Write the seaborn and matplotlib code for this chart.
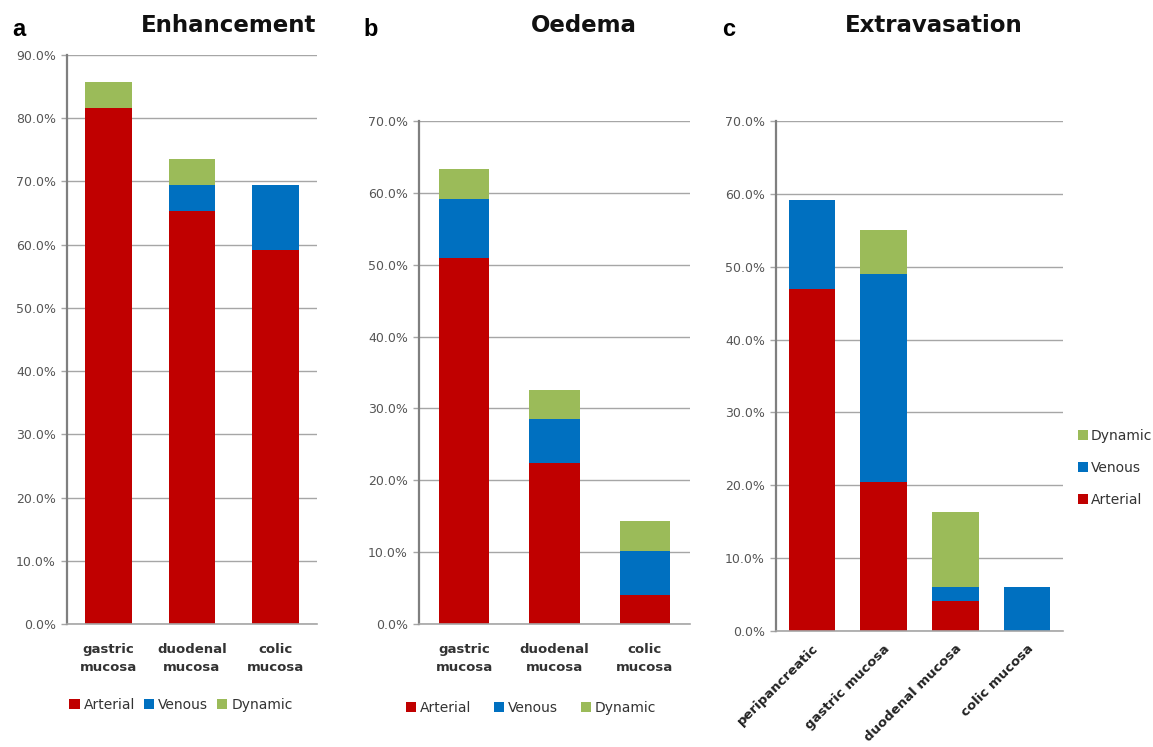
import matplotlib
matplotlib.use("Agg")
import matplotlib.pyplot as plt
from matplotlib.patches import Patch
from matplotlib.ticker import FuncFormatter, MultipleLocator
import seaborn as sns

# Percentage of patients per site, split by the phase in which the finding appeared
phases = ["Arterial", "Venous", "Dynamic"]
phase_colors = ["#C00000", "#0070C0", "#9BBB59"]

enh_sites = ["gastric\nmucosa", "duodenal\nmucosa", "colic\nmucosa"]
enh_arterial = [81.6, 65.3, 59.2]
enh_venous = [0.0, 4.1, 10.2]
enh_dynamic = [4.1, 4.1, 0.0]

oed_sites = ["gastric\nmucosa", "duodenal\nmucosa", "colic\nmucosa"]
oed_arterial = [51.0, 22.4, 4.1]
oed_venous = [8.2, 6.1, 6.1]
oed_dynamic = [4.1, 4.1, 4.1]

ext_sites = ["peripancreatic", "gastric mucosa", "duodenal mucosa", "colic mucosa"]
ext_arterial = [46.9, 20.4, 4.1, 0.0]
ext_venous = [12.2, 28.6, 2.0, 6.1]
ext_dynamic = [0.0, 6.1, 10.2, 0.0]

W, H = 1153, 747
sns.set_theme(style="white")
plt.rcParams["font.family"] = ["DejaVu Sans"]

fig = plt.figure(figsize=(W / 100, H / 100), dpi=100)


def px_axes(left, top, right, bottom):
    return fig.add_axes([left / W, 1 - bottom / H, (right - left) / W, (bottom - top) / H])


def stacked(ax, sites, arterial, venous, dynamic, ymax, width):
    art_ven = [a + v for a, v in zip(arterial, venous)]
    total = [s + d for s, d in zip(art_ven, dynamic)]
    # draw tallest layer first so lower segments sit on top
    for vals, col in zip([total, art_ven, arterial], phase_colors[::-1]):
        sns.barplot(x=sites, y=vals, color=col, saturation=1, width=width,
                    linewidth=0, ax=ax, errorbar=None)
    ax.set_ylim(0, ymax)
    ax.set_xlim(-0.5, len(sites) - 0.5)
    ax.yaxis.set_major_locator(MultipleLocator(10))
    ax.yaxis.set_major_formatter(FuncFormatter(lambda v, _: f"{v:.1f}%"))
    ax.yaxis.grid(True, color="#a6a6a6", linewidth=1.0)
    ax.set_axisbelow(True)
    for s in ["top", "right"]:
        ax.spines[s].set_visible(False)
    ax.spines["left"].set_color("#7f7f7f")
    ax.spines["left"].set_linewidth(1.6)
    ax.spines["bottom"].set_color("#a6a6a6")
    ax.spines["bottom"].set_linewidth(1.2)
    ax.tick_params(axis="y", left=True, length=4, width=1.0, color="#a6a6a6",
                   labelsize=9, labelcolor="#555555", pad=4)
    ax.tick_params(axis="x", bottom=False, labelsize=9.5, labelcolor="#333333", pad=8)
    for t in ax.get_xticklabels():
        t.set_fontweight("bold")
        t.set_linespacing(1.45)
    ax.set_xlabel("")
    ax.set_ylabel("")


def phase_handles(order):
    return [Patch(facecolor=phase_colors[i], edgecolor="none", label=phases[i]) for i in order]


legend_kw = dict(frameon=False, fontsize=10, handlelength=0.75, handleheight=0.75,
                 labelcolor="#333333")

# a: Enhancement
ax_a = px_axes(67, 55, 317, 624)
stacked(ax_a, enh_sites, enh_arterial, enh_venous, enh_dynamic, 90, 0.56)
ax_a.legend(handles=phase_handles([0, 1, 2]), loc="center", ncol=3,
            bbox_to_anchor=(181 / W, 1 - 705 / H), bbox_transform=fig.transFigure,
            handletextpad=0.3, columnspacing=0.6, **legend_kw)

# b: Oedema
ax_b = px_axes(419, 121, 690, 624)
stacked(ax_b, oed_sites, oed_arterial, oed_venous, oed_dynamic, 70, 0.56)
ax_b.legend(handles=phase_handles([0, 1, 2]), loc="center", ncol=3,
            bbox_to_anchor=(531 / W, 1 - 708 / H), bbox_transform=fig.transFigure,
            handletextpad=0.3, columnspacing=1.6, **legend_kw)

# c: Extravasation
ax_c = px_axes(776, 121, 1063, 631)
stacked(ax_c, ext_sites, ext_arterial, ext_venous, ext_dynamic, 70, 0.65)
ax_c.tick_params(axis="x", pad=2, labelcolor="#222222")
for t in ax_c.get_xticklabels():
    t.set_rotation(45)
    t.set_ha("right")
    t.set_rotation_mode("anchor")
    t.set_fontsize(9.5)
ax_c.legend(handles=phase_handles([2, 1, 0]), loc="upper left",
            bbox_to_anchor=(1072 / W, 1 - 423 / H), bbox_transform=fig.transFigure,
            handletextpad=0.2, labelspacing=1.3, borderaxespad=0, **legend_kw)

# panel letters and titles
letter_kw = dict(fontsize=17, fontweight="bold", family=["Liberation Sans"], va="center", color="black")
title_kw = dict(fontsize=16.5, fontweight="bold", family=["DejaVu Sans"], va="center", color="#111111")
fig.text(12 / W, 1 - 29 / H, "a", ha="left", **letter_kw)
fig.text(316 / W, 1 - 26 / H, "Enhancement", ha="right", **title_kw)
fig.text(363 / W, 1 - 29 / H, "b", ha="left", **letter_kw)
fig.text(584 / W, 1 - 26 / H, "Oedema", ha="center", **title_kw)
fig.text(722 / W, 1 - 29 / H, "c", ha="left", **letter_kw)
fig.text(934 / W, 1 - 26 / H, "Extravasation", ha="center", **title_kw)

fig.savefig("out.png", dpi=100, facecolor="white")
